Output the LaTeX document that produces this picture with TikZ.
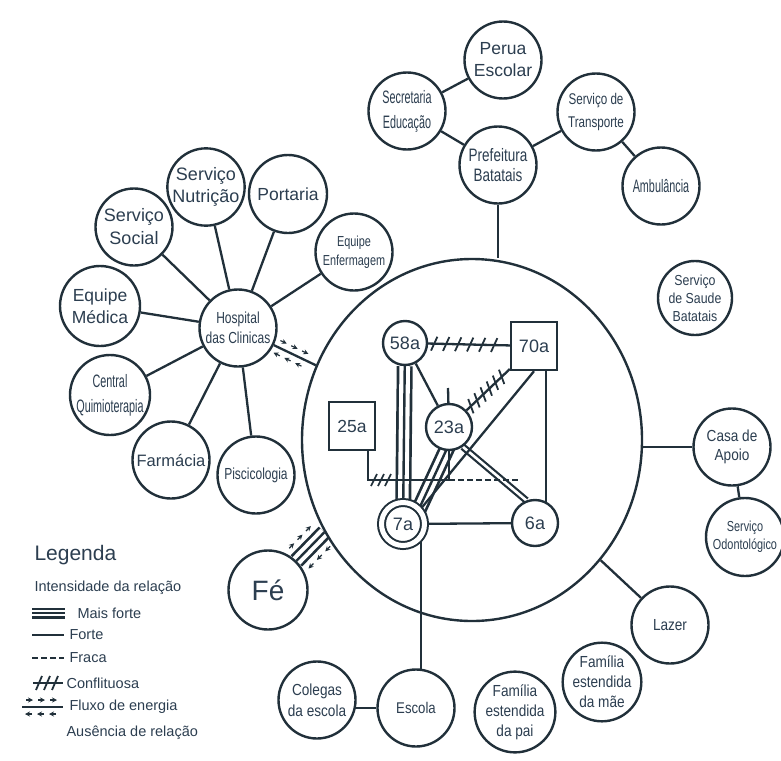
\documentclass[tikz,border=0pt]{standalone}
\usepackage{fontspec}
\setmainfont{Liberation Sans}
\newfontfamily\estreitaA[FakeStretch=0.85]{Liberation Sans}
\newfontfamily\estreitaB[FakeStretch=0.75]{Liberation Sans}
\newfontfamily\estreitaC[FakeStretch=0.6]{Liberation Sans}
\usetikzlibrary{shapes.geometric, decorations.markings, arrows.meta}
\definecolor{ink}{RGB}{33,48,58}
\definecolor{texto}{RGB}{44,62,80}
\pgfdeclarelayer{fundo}
\pgfsetlayers{fundo,main}
\newcommand{\legfont}{\fontsize{14.5}{17}\selectfont}
\tikzset{
	no/.style = {circle, draw, fill=white, line width=2.4pt, minimum size=#1, inner sep=0pt, align=center},
	no/.default = 77pt,
	caixa/.style = {rectangle, draw, fill=white, line width=2.4pt, minimum width=46pt, minimum height=48pt, inner sep=0pt},
	liga/.style = {line width=2.3pt, color=ink},
	triplo/.style = {line width=#1, postaction={draw=white, line width=#1-5.4pt}, postaction={draw=ink, line width=2.4pt}},
	triplo/.default = 16pt,
	dupla/.style = {double=white, double distance=2.6pt, line width=2.2pt},
	fraca/.style = {line width=1.6pt, dash pattern=on 6pt off 3pt},
	conflito/.style = {postaction={decorate, decoration={markings,
		mark=between positions 6pt and -6pt step #1 with {\draw[ink, line width=1.8pt] (-3pt,-7pt) -- (3pt,7pt);}}}},
	fluxo/.style = {postaction={decorate, decoration={markings,
		mark=between positions 7pt and -7pt step 12pt with {
			\draw[ink, line width=1.2pt, -{Stealth[length=5pt, width=5pt]}] (-3pt,#1) -- (4pt,#1);
			\draw[ink, line width=1.2pt, -{Stealth[length=5pt, width=5pt]}] (3pt,-#1) -- (-4pt,-#1);}}}}
}
\begin{document}
\begin{tikzpicture}[x=1pt, y=-1pt, color=ink, text=texto]
	\useasboundingbox (0,0) rectangle (781,760);
	%
	\node[ellipse, draw, line width=2.4pt, minimum width=340pt, minimum height=362pt, inner sep=0pt] (rede) at (472,440) {};
	%
	\node[no, font=\fontsize{17.5}{22}\selectfont] (Perua) at (503,60) {Perua\\Escolar};
	\node[no, font=\estreitaC\fontsize{18}{25}\selectfont] (Secretaria) at (407,111) {Secretaria\\Educação};
	\node[no, font=\estreitaB\fontsize{18}{20}\selectfont] (Prefeitura) at (498,165) {Prefeitura\\Batatais};
	\node[no, font=\estreitaB\fontsize{15.5}{23}\selectfont] (Transporte) at (596,112) {Serviço de\\Transporte};
	\node[no, font=\estreitaC\fontsize{18}{22}\selectfont] (Ambulancia) at (661,186) {Ambulância};
	%
	\node[no, font=\estreitaB\fontsize{16}{20}\selectfont] (Hospital) at (238,328) {Hospital\\das Clinicas};
	\node[no=76pt, font=\fontsize{18}{22}\selectfont] (Nutricao) at (206,187) {Serviço\\Nutrição};
	\node[no=78pt, font=\fontsize{17.5}{22}\selectfont] (Portaria) at (288,194) {Portaria};
	\node[no, font=\fontsize{18}{23}\selectfont] (Social) at (134,227) {Serviço\\Social};
	\node[no, font=\estreitaB\fontsize{14.5}{19}\selectfont] (Enfermagem) at (354,252) {Equipe\\Enfermagem};
	\node[no=80pt, font=\fontsize{17.5}{22}\selectfont] (Medica) at (100,306) {Equipe\\Médica};
	\node[no=80pt, font=\estreitaC\fontsize{18}{25}\selectfont] (Quimio) at (110,395) {Central\\Quimioterapia};
	\node[no, font=\fontsize{16.5}{20}\selectfont] (Farmacia) at (171,460) {Farmácia};
	\node[no, font=\estreitaB\fontsize{16}{20}\selectfont] (Psico) at (256,475) {Piscicologia};
	\node[no=79pt, font=\fontsize{28}{30}\selectfont] (Fe) at (268,590) {Fé};
	%
	\node[no=74pt, font=\estreitaA\fontsize{14.5}{18}\selectfont] (Saude) at (695,298) {Serviço\\de Saude\\Batatais};
	\node[no, font=\estreitaA\fontsize{16}{19}\selectfont] (Casa) at (732,447) {Casa de\\Apoio};
	\node[no=78pt, font=\estreitaB\fontsize{14.5}{18}\selectfont] (Odonto) at (745,537) {Serviço\\Odontológico};
	\node[no, font=\estreitaA\fontsize{16}{20}\selectfont] (Lazer) at (670,625) {Lazer};
	%
	\node[no, font=\estreitaA\fontsize{16}{21}\selectfont] (Colegas) at (317,700) {Colegas\\da escola};
	\node[no, font=\estreitaA\fontsize{15.5}{20}\selectfont] (Escola) at (416,708) {Escola};
	\node[no=76pt, font=\estreitaA\fontsize{16}{20}\selectfont] (FamPai) at (515,712) {Família\\estendida\\da pai};
	\node[no=76pt, font=\estreitaA\fontsize{16}{20}\selectfont] (FamMae) at (602,682) {Família\\estendida\\da mãe};
	%
	\node[no=44pt, font=\fontsize{18}{20}\selectfont] (m58) at (405,343) {58a};
	\node[caixa, font=\fontsize{18}{20}\selectfont] (m70) at (534,346) {70a};
	\node[no=46pt, font=\fontsize{18}{20}\selectfont] (m23) at (449,427) {23a};
	\node[caixa, font=\fontsize{17.5}{20}\selectfont] (m25) at (352,426) {25a};
	\node[no=43pt, double=white, double distance=5pt, line width=2pt, font=\fontsize{18}{20}\selectfont] (m7) at (403,524) {7a};
	\node[no=46pt, font=\fontsize{18}{20}\selectfont] (m6) at (535,523) {6a};
	%
	\coordinate (toco) at (448,388);
	\coordinate (cruz) at (449,480);
	\coordinate (fimfraca) at (518,480);
	%
	\begin{pgfonlayer}{fundo}
	\begin{scope}[liga]
		\draw (Perua) -- (Secretaria) -- (Prefeitura) -- (Transporte) -- (Ambulancia);
		\draw (Prefeitura) -- (Prefeitura |- rede.north);
		\foreach \n in {Nutricao, Portaria, Social, Enfermagem, Medica, Quimio, Farmacia, Psico}
			\draw (Hospital) -- (\n);
		\draw[fluxo=7pt] (Hospital) -- (rede);
		\draw[triplo] (Fe) -- (rede.212);
		\path[fluxo=14pt] (Fe) -- (rede.212);
		\draw (Casa) -- (Casa -| rede.east);
		\draw (Casa) -- (Odonto);
		\draw (Lazer) -- (rede);
		\draw (m7.-36) -- (m7.-36 |- Escola.center);
		\draw (Escola) -- (Escola -| Colegas);
		%
		\draw[conflito=12pt] (m58) -- (m70);
		\draw[conflito=8.5pt] (m23) -- (m70);
		\draw (m58) -- (m23);
		\draw (m23) -- (toco);
		\draw[triplo] (m58) -- (m7);
		\draw[triplo] ([xshift=8pt]m23.center) -- ([xshift=9pt]m7.center);
		\draw[dupla] (m23.-55) -- (m6.111);
		\draw (m70.south) -- (m7.40);
		\draw ([xshift=12pt]m70.south) -- ([xshift=12pt]m70.south |- m6.center);
		\draw (m7) -- (m6);
		\draw ([xshift=16pt]m25.south) |- (cruz);
		\draw (m23) -- (cruz);
		\draw[fraca] (cruz) -- (fimfraca);
		\foreach \x in {374,381,388}
			\draw[line width=1.7pt] (\x-3,486) -- (\x+3,474);
	\end{scope}
	\end{pgfonlayer}
	%
	% legenda
	\node[anchor=west, font=\fontsize{21}{24}\selectfont] (legenda) at (31,555) {Legenda};
	\node[anchor=west, font=\legfont] (lIntens) at (31,588) {Intensidade da relação};
	\coordinate (lA1) at (32,613); \coordinate (lA2) at (65,613);
	\coordinate (lB1) at (32,635); \coordinate (lB2) at (64,635);
	\coordinate (lC1) at (32,658); \coordinate (lC2) at (64,658);
	\coordinate (lD1) at (33,683); \coordinate (lD2) at (63,683);
	\coordinate (lE1) at (22,707); \coordinate (lE2) at (63,707);
	\begin{scope}[liga]
		\draw[triplo=11pt] (lA1) -- (lA2);
		\draw (lB1) -- (lB2);
		\draw[fraca] (lC1) -- (lC2);
		\draw[conflito=8pt] (lD1) -- (lD2);
		\draw[line width=1.8pt, fluxo=7pt] (lE1) -- (lE2);
	\end{scope}
	\node[anchor=west, font=\legfont] (lMais) at (74,613) {Mais forte};
	\node[anchor=west, font=\legfont] (lForte) at (66,635) {Forte};
	\node[anchor=west, font=\legfont] (lFraca) at (66,658) {Fraca};
	\node[anchor=west, font=\legfont] (lConfl) at (63,683) {Conflituosa};
	\node[anchor=west, font=\legfont] (lFluxo) at (66,707) {Fluxo de energia};
	\node[anchor=west, font=\legfont] (lAusen) at (63,733) {Ausência de relação};
	%
\end{tikzpicture}
\end{document}
